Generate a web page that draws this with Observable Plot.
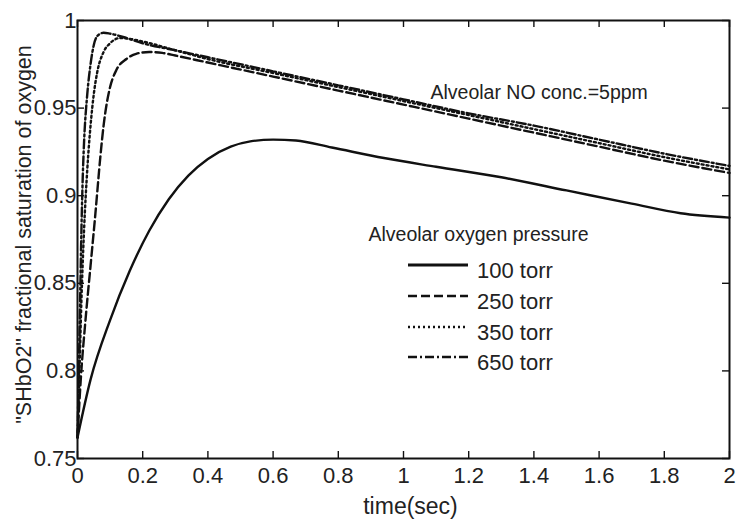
<!DOCTYPE html>
<html><head><meta charset="utf-8">
<script src="https://cdn.jsdelivr.net/npm/d3@7"></script>
<script src="https://cdn.jsdelivr.net/npm/@observablehq/plot@0.6"></script>
<style>body{margin:0;background:#fff;}</style>
</head><body><div id="chart"></div>
<script>
// ---- data ----
const seriesNames = ["100 torr", "250 torr", "350 torr", "650 torr"];

const t100 = [0, 0.04, 0.1, 0.16, 0.22, 0.28, 0.34, 0.4, 0.47, 0.53, 0.6, 0.67, 0.78, 0.94, 1.1, 1.3, 1.5, 1.7, 1.85, 2.0];
const v100 = [0.762, 0.795, 0.829, 0.857, 0.880, 0.898, 0.9115, 0.921, 0.928, 0.931, 0.932, 0.9315, 0.9275, 0.9215, 0.9165, 0.9105, 0.903, 0.8955, 0.890, 0.8875];

const t250 = [0, 0.01, 0.025, 0.04, 0.055, 0.07, 0.08, 0.09, 0.1, 0.12, 0.15, 0.18, 0.22, 0.26, 0.3, 0.4, 0.6, 0.8, 1.0, 1.2, 1.4, 1.6, 1.8, 2.0];
const v250 = [0.762, 0.795, 0.83, 0.86, 0.89, 0.922, 0.940, 0.953, 0.962, 0.972, 0.978, 0.981, 0.982, 0.9815, 0.980, 0.976, 0.968, 0.960, 0.952, 0.944, 0.936, 0.928, 0.920, 0.913];

const t350 = [0, 0.006, 0.012, 0.02, 0.03, 0.04, 0.05, 0.06, 0.08, 0.1, 0.13, 0.16, 0.2, 0.3, 0.4, 0.6, 0.8, 1.0, 1.2, 1.4, 1.6, 1.8, 2.0];
const v350 = [0.762, 0.80, 0.84, 0.88, 0.915, 0.94, 0.958, 0.970, 0.982, 0.987, 0.990, 0.9895, 0.988, 0.983, 0.978, 0.970, 0.962, 0.954, 0.946, 0.938, 0.930, 0.922, 0.915];

const t650 = [0, 0.004, 0.008, 0.012, 0.016, 0.02, 0.03, 0.04, 0.05, 0.06, 0.08, 0.1, 0.15, 0.2, 0.3, 0.4, 0.6, 0.8, 1.0, 1.2, 1.4, 1.6, 1.8, 2.0];
const v650 = [0.762, 0.80, 0.84, 0.88, 0.91, 0.93, 0.958, 0.975, 0.986, 0.991, 0.993, 0.9925, 0.990, 0.987, 0.983, 0.979, 0.971, 0.963, 0.955, 0.947, 0.940, 0.932, 0.924, 0.917];

const xTicks = [0, 0.2, 0.4, 0.6, 0.8, 1, 1.2, 1.4, 1.6, 1.8, 2];
const xTickLabels = ["0", "0.2", "0.4", "0.6", "0.8", "1", "1.2", "1.4", "1.6", "1.8", "2"];
const yTicks = [0.75, 0.8, 0.85, 0.9, 0.95, 1];
const yTickLabels = ["0.75", "0.8", "0.85", "0.9", "0.95", "1"];

const xLabel = "time(sec)";
const yLabel = '"SHbO2" fractional saturation of oxygen';
const annotation = "Alveolar NO conc.=5ppm";
const legendTitle = "Alveolar oxygen pressure";

// ---- styles ----
const dash = {"100 torr": null, "250 torr": "9,4", "350 torr": "2,3", "650 torr": "9,3,2,3"};
const FONT = "'Liberation Sans', Arial, sans-serif";
const W = 737, H = 521, ML = 77, MR = 8, MT = 20, MB = 63;
const innerW = W - ML - MR, innerH = H - MT - MB;

const series = [
  {name: "100 torr", t: t100, v: v100},
  {name: "250 torr", t: t250, v: v250},
  {name: "350 torr", t: t350, v: v350},
  {name: "650 torr", t: t650, v: v650}
].map(s => ({name: s.name, rows: s.t.map((t, i) => ({t, v: s.v[i]}))}));

const lineMarks = series.map(s => Plot.line(s.rows, {
  x: "t", y: "v", stroke: "#111", strokeWidth: 2.4,
  strokeDasharray: dash[s.name], curve: "monotone-x"
}));

const plot = Plot.plot({
  width: W, height: H,
  marginLeft: ML, marginRight: MR, marginTop: MT, marginBottom: MB,
  style: {fontFamily: FONT, color: "#111", background: "#fff", overflow: "visible"},
  x: {domain: [0, 2]},
  y: {domain: [0.75, 1]},
  marks: [
    ...lineMarks,
    // inward ticks on all four sides
    Plot.tickX(xTicks, {x: d => d, insetTop: innerH - 7, stroke: "#111", strokeWidth: 1.4}),
    Plot.tickX(xTicks, {x: d => d, insetBottom: innerH - 7, stroke: "#111", strokeWidth: 1.4}),
    Plot.tickY(yTicks, {y: d => d, insetRight: innerW - 7, stroke: "#111", strokeWidth: 1.4}),
    Plot.tickY(yTicks, {y: d => d, insetLeft: innerW - 7, stroke: "#111", strokeWidth: 1.4}),
    Plot.axisX({ticks: xTicks, tickFormat: d => xTickLabels[xTicks.indexOf(d)], tickSize: 0, tickPadding: 9, fontSize: 22, label: null, fill: "#222"}),
    Plot.axisY({ticks: yTicks, tickFormat: d => yTickLabels[yTicks.indexOf(d)], tickSize: 0, tickPadding: 1, fontSize: 22, label: null, fill: "#222"}),
    Plot.frame({stroke: "#111", strokeWidth: 2}),
    Plot.text([xLabel], {frameAnchor: "bottom", lineAnchor: "middle", dx: 7, dy: 48, fontSize: 23, fill: "#222"}),
    Plot.text([yLabel], {frameAnchor: "left", textAnchor: "middle", lineAnchor: "middle", rotate: -90, dx: -53, dy: -5, fontSize: 21.5, fill: "#222"}),
    Plot.text([annotation], {frameAnchor: "top-left", textAnchor: "start", lineAnchor: "middle", dx: 353, dy: 72, fontSize: 19.5, fill: "#222"}),
    Plot.text([legendTitle], {frameAnchor: "top-left", textAnchor: "start", lineAnchor: "middle", dx: 291, dy: 214, fontSize: 19.5, fill: "#222"})
  ]
});

document.getElementById("chart").appendChild(plot);

// legend entries (line samples + labels)
const svg = d3.select(plot);
const legendRowsY = [265, 296, 327, 357];
const g = svg.append("g").attr("font-family", FONT).attr("text-anchor", "start");
seriesNames.forEach((name, i) => {
  const y = legendRowsY[i];
  g.append("line").attr("x1", 408).attr("x2", 468).attr("y1", y).attr("y2", y)
    .attr("stroke", "#111").attr("stroke-width", i === 0 ? 3 : 2.6)
    .attr("stroke-dasharray", dash[name]);
  g.append("text").attr("x", 477).attr("y", y + 5).attr("dy", "0.35em")
    .attr("text-anchor", "start")
    .attr("font-size", 22).attr("fill", "#222").text(name);
});
</script>
</body></html>
